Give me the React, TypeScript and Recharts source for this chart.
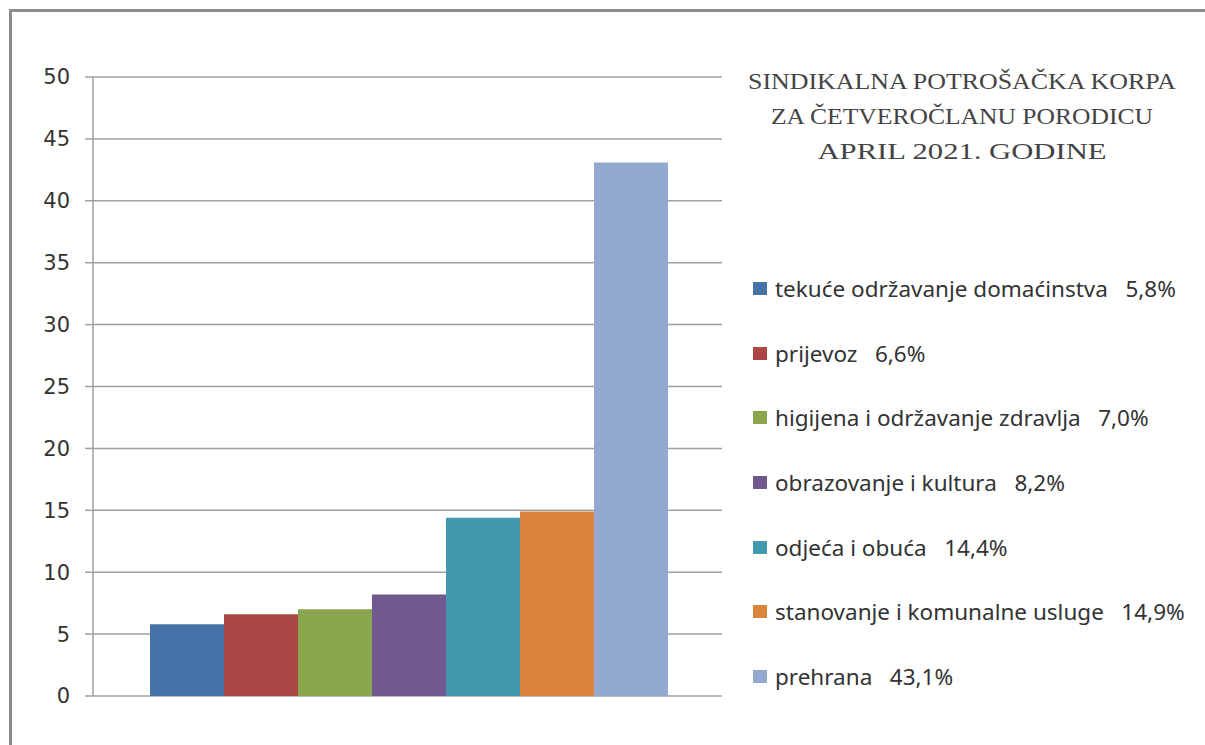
import { BarChart, Bar, XAxis, YAxis, CartesianGrid } from "recharts";

const categories = [
  "tekuće održavanje domaćinstva",
  "prijevoz",
  "higijena i održavanje zdravlja",
  "obrazovanje i kultura",
  "odjeća i obuća",
  "stanovanje i komunalne usluge",
  "prehrana",
];
const shares = [5.8, 6.6, 7.0, 8.2, 14.4, 14.9, 43.1];
const colors = ["#4572a7", "#aa4643", "#89a54e", "#71588f", "#4198af", "#db843d", "#93a9cf"];
const yTicks = [0, 5, 10, 15, 20, 25, 30, 35, 40, 45, 50];
const titleLines = ["SINDIKALNA POTROŠAČKA KORPA", "ZA ČETVEROČLANU PORODICU", "APRIL 2021. GODINE"];

const row: Record<string, number | string> = { name: "" };
shares.forEach((v, i) => (row["s" + i] = v));
const data = [row];

const fmt = (v: number) => v.toFixed(1).replace(".", ",") + "%";

// legend drawn by hand so it keeps the series order and takes no room from the plot
function SideLegend() {
  return (
    <div style={{ position: "absolute", left: 753, top: 256 }}>
      {categories.map((c, i) => (
        <div key={c} style={{ height: 64.7, display: "flex", alignItems: "center", whiteSpace: "pre" }}>
          <span style={{ width: 14, height: 13, background: colors[i], marginRight: 8, display: "inline-block" }} />
          <span style={{ fontFamily: "Noto Sans, sans-serif", fontSize: 22.5, color: "#333" }}>
            {`${c}   ${fmt(shares[i])}`}
          </span>
        </div>
      ))}
    </div>
  );
}

export default function App() {
  return (
    <div style={{ position: "absolute", left: 0, top: 0, width: 1205, height: 745, overflow: "hidden", background: "#fff" }}>
      <svg style={{ position: "absolute", left: 0, top: 0 }} width={1205} height={745}>
        <polyline points="10.5,745 10.5,10.5 1205,10.5" fill="none" stroke="#8c8c8c" strokeWidth={3} />
        {titleLines.map((t, i) => (
          <text
            key={t}
            x={962}
            y={89 + i * 35}
            textAnchor="middle"
            fontFamily="Liberation Serif, serif"
            fontSize={24}
            fill="#444"
            textLength={[428, 382, 289][i]}
            lengthAdjust="spacingAndGlyphs"
          >
            {t}
          </text>
        ))}
      </svg>
      <div style={{ position: "absolute", left: 0, top: 0 }}>
        <BarChart
          width={1205}
          height={745}
          data={data}
          margin={{ top: 77, right: 483, bottom: 49, left: 0 }}
          barCategoryGap={57}
          barGap={0}
        >
          <CartesianGrid vertical={false} stroke="#a0a0a0" strokeWidth={1.5} />
          <XAxis dataKey="name" hide />
          <YAxis
            width={93}
            domain={[0, 50]}
            ticks={yTicks}
            interval={0}
            axisLine={{ stroke: "#a0a0a0", strokeWidth: 1.5 }}
            tickLine={{ stroke: "#a0a0a0", strokeWidth: 1.5 }}
            tickSize={8}
            tickMargin={15}
            tick={{ fill: "#333", fontSize: 21, fontFamily: "DejaVu Sans, sans-serif" }}
          />
          {categories.map((c, i) => (
            <Bar key={c} dataKey={"s" + i} name={c} fill={colors[i]} isAnimationActive={false} />
          ))}
        </BarChart>
      </div>
      <SideLegend />
    </div>
  );
}
